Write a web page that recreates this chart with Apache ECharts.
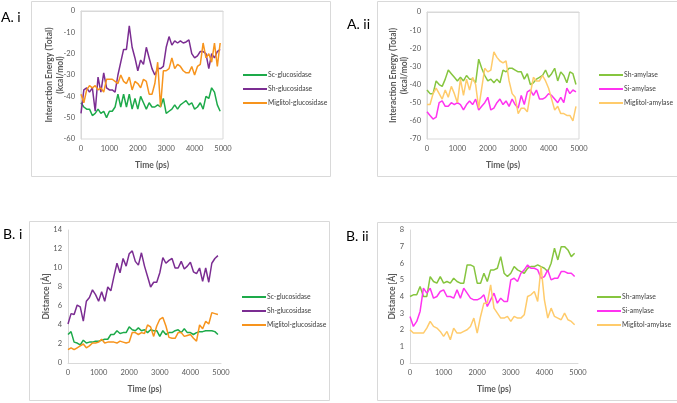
<!DOCTYPE html>
<html><head><meta charset="utf-8">
<script src="https://cdn.jsdelivr.net/npm/echarts@6/dist/echarts.min.js"></script>
<style>html,body{margin:0;padding:0;background:#fff}#c{width:677px;height:403px}</style>
</head><body><div id="c"></div>
<script>
const time = [0,100,200,300,400,500,600,700,800,900,1000,1100,1200,1300,1400,1500,1600,1700,1800,1900,2000,2100,2200,2300,2400,2500,2600,2700,2800,2900,3000,3100,3200,3300,3400,3500,3600,3700,3800,3900,4000,4100,4200,4300,4400,4500,4600,4700,4800,4900];

// A.i Interaction energy, glucosidase
const aiSc = [-43,-45,-46,-46,-49,-48,-46,-48,-47,-50,-47,-47,-45,-39,-45,-39,-45,-39,-46,-41,-46,-40,-43,-46,-43,-45,-45,-44,-45,-41,-48,-47,-46,-44,-46,-44,-43,-42,-44,-43,-46,-45,-43,-46,-40,-41,-36,-38,-44,-47];
const aiSh = [-48,-37,-36,-38,-36,-47,-31,-38,-29,-36,-37,-37,-38,-30,-24,-18,-18,-7,-17,-22,-28,-23,-25,-17,-22,-27,-30,-27,-27,-26,-17,-12,-16,-14,-15,-14,-15,-14.5,-13.5,-20,-22,-21,-19,-19,-20,-27,-20,-22,-19,-18];
const aiMig = [-39,-43,-37,-35,-36,-35,-37,-36,-38,-32,-32,-32,-33,-34,-30,-33,-34,-31,-37,-33,-34,-36,-32,-33,-39,-39,-34,-24,-45,-28,-28,-27,-22,-27,-25,-26,-28,-29,-29,-26,-30,-26,-25,-15,-22,-20,-24,-15,-26,-15];

// A.ii Interaction energy, amylase
const aiiSh = [-43,-45,-45,-38,-40,-41,-37,-32,-34,-36,-38,-36,-38,-35,-37,-37,-39,-26,-31,-35,-38,-37,-39,-37,-39,-32,-33,-31,-31,-32,-33,-33,-37,-34,-40,-39,-37,-36,-35,-32,-36,-34,-31,-38,-33,-35,-39,-33,-34,-40];
const aiiSi = [-55,-57,-59,-58,-50,-49,-52,-52,-50,-51,-50,-51,-54,-51,-49,-51,-48,-54,-52,-50,-47,-54,-53,-50,-48,-51,-49,-52,-48,-51,-53,-46,-51,-44,-43,-46,-43,-48,-48,-47,-45,-46,-48,-50,-47,-50,-42,-45,-43,-44];
const aiiMig = [-51,-51,-45,-42,-45,-48,-43,-47,-41,-45,-50,-37,-46,-37,-43,-36,-40,-53,-42,-31,-33,-32,-22,-25,-27,-28,-27,-38,-45,-47,-56,-53,-53,-55,-45,-36,-38,-38,-35,-38,-42,-48,-54,-52,-56,-56,-57,-57,-60,-52];

// B.i Distance, glucosidase
const biSc = [3.0,3.3,2.2,2.1,1.9,2.4,2.1,2.2,2.2,2.3,2.3,2.4,2.5,2.5,3.0,3.0,3.4,3.1,3.2,3.2,3.8,3.5,3.4,3.7,3.4,3.5,3.2,3.5,3.4,3.4,2.8,3.4,3.0,3.2,3.2,3.4,3.5,3.2,3.6,3.2,3.2,3.0,3.2,3.3,3.3,3.4,3.4,3.4,3.3,3.0];
const biSh = [4.1,5.2,5.1,6.1,5.9,4.4,6.5,6.9,7.7,7.2,6.5,7.5,6.5,8.0,7.6,9.1,10.5,9.5,11.0,10.2,11.5,11.8,10.7,10.3,11.6,10.2,9.1,8.0,8.5,8.5,9.5,11.1,10.5,10.8,11.0,10.0,10.0,10.7,9.9,10.2,10.6,9.6,9.4,10.0,8.6,10.0,8.5,10.5,11.0,11.3];
const biMig = [1.4,1.6,1.4,1.6,1.8,2.0,1.6,1.8,2.1,2.1,2.2,2.5,2.1,2.2,2.2,2.2,2.1,2.3,2.2,2.1,2.2,3.2,3.2,3.0,3.2,3.1,4.0,3.8,2.8,3.9,4.6,4.8,3.9,2.7,2.6,2.6,3.2,3.2,2.8,2.9,3.0,2.6,2.3,4.0,3.6,4.4,4.1,5.3,5.2,5.1];

// B.ii Distance, amylase
const biiSh = [4.0,4.1,4.1,4.6,4.0,4.0,5.2,4.9,4.8,5.2,4.8,4.9,4.8,5.1,4.9,4.8,4.8,5.9,5.9,5.8,4.8,4.8,5.4,4.9,5.6,5.6,5.7,6.4,5.4,5.2,5.4,5.8,5.6,5.5,5.4,5.7,5.8,5.8,5.9,5.8,5.7,5.5,6.0,6.9,6.2,7.0,7.0,6.8,6.4,6.6];
const biiSi = [2.8,2.2,2.5,3.1,4.5,4.2,4.5,3.9,4.0,4.3,4.4,4.0,4.0,3.9,4.4,3.9,4.5,4.2,3.9,3.8,3.8,3.9,4.1,3.4,3.8,4.2,3.6,3.9,3.7,3.7,5.0,5.1,4.9,5.4,5.6,5.9,5.7,5.7,5.6,5.1,5.2,5.6,5.0,5.1,5.1,5.5,5.5,5.4,5.4,5.2];
const biiMig = [2.0,1.8,1.8,1.8,1.8,2.1,2.5,2.2,2.1,1.9,1.6,1.9,1.4,2.1,1.8,1.8,1.9,2.0,2.2,2.7,1.8,2.8,3.6,3.6,4.7,3.3,3.0,2.7,2.7,2.8,2.5,2.8,2.7,2.7,2.9,4.0,4.1,4.3,3.7,5.8,3.8,2.7,3.3,2.8,2.7,2.6,3.0,2.6,2.5,2.3];

const glucNames = ['Sc-glucosidase','Sh-glucosidase','Miglitol-glucosidase'];
const amyNames = ['Sh-amylase','Si-amylase','Miglitol-amylase'];
const panelLabels = ['A. i','A. ii','B. i','B. ii'];
const energyTitle = 'Interaction Energy (Total)\n(kcal/mol)';
const distTitle = 'Distance [Å]';
const timeTitle = 'Time (ps)';

const C = {green:'#1DAA4A', purple:'#7B2D92', orange:'#F7941D', lgreen:'#86C53F', magenta:'#FF33F0', pale:'#FFCB6B'};
const FONT = 'Lato, "Open Sans", sans-serif';
const tickColor = '#595959';

function pairs(v){ return time.map((t,i)=>[t, v[i]]); }

const grids = [
  {left:81, top:11, width:142, height:128, show:true, borderColor:'#D9D9D9', borderWidth:1},
  {left:427, top:12, width:152, height:127, show:true, borderColor:'#D9D9D9', borderWidth:1},
  {left:68, top:230, width:153, height:133},
  {left:410, top:230, width:168, height:133}
];

function xAx(i){
  return {gridIndex:i, type:'value', min:0, max:5000, interval:1000,
    name:timeTitle, nameLocation:'middle', nameGap:22,
    nameTextStyle:{fontFamily:FONT, fontSize:8.5, fontWeight:'bold', color:tickColor},
    axisLine:{show:true, lineStyle:{color:'#D9D9D9'}}, axisTick:{show:false},
    splitLine:{show:false},
    axisLabel:{fontFamily:FONT, fontSize:7.5, color:tickColor, margin:6, formatter:(v)=>String(v)}};
}
function yAx(i,min,max,interval,name,gap){
  return {gridIndex:i, type:'value', min:min, max:max, interval:interval,
    name:name, nameLocation:'middle', nameRotate:90, nameGap:gap, nameMoveOverlap:false,
    nameTextStyle:{fontFamily:FONT, fontSize:8.5, fontWeight:'bold', color:tickColor, lineHeight:11},
    axisLine:{show:true, lineStyle:{color:'#D9D9D9'}}, axisTick:{show:false},
    splitLine:{show:false},
    axisLabel:{fontFamily:FONT, fontSize:7.5, color:tickColor, margin:6}};
}

function ser(name, v, g, color){
  return {name:name, type:'line', xAxisIndex:g, yAxisIndex:g, data:pairs(v),
    showSymbol:false, symbol:'none', lineStyle:{width:1.5, color:color}, itemStyle:{color:color}, animation:false};
}

function leg(data, left, top){
  return {data:data, left:left, top:top, padding:0, orient:'vertical', icon:'rect', itemWidth:24, itemHeight:2,
    itemGap:4, textStyle:{fontFamily:FONT, fontSize:6.8, color:'#404040', lineHeight:10, padding:[0,0,0,-4]}};
}

// B-panel series use a trailing space so their legends stay independent
const bG = glucNames.map(n=>n+' ');
const bA = amyNames.map(n=>n+' ');

const option = {
  animation:false,
  grid: grids,
  xAxis: [xAx(0), xAx(1), xAx(2), xAx(3)],
  yAxis: [
    yAx(0,-60,0,10,energyTitle,15),
    yAx(1,-70,0,10,energyTitle,17),
    yAx(2,0,14,2,distTitle,16),
    yAx(3,0,8,1,distTitle,12)
  ],
  legend: [
    leg(glucNames, 243, 70),
    leg(amyNames, 599, 70),
    leg(bG, 242, 292),
    leg(bA, 597, 292)
  ],
  series: [
    ser(glucNames[0], aiSc, 0, C.green),
    ser(glucNames[1], aiSh, 0, C.purple),
    ser(glucNames[2], aiMig, 0, C.orange),
    ser(amyNames[0], aiiSh, 1, C.lgreen),
    ser(amyNames[1], aiiSi, 1, C.magenta),
    ser(amyNames[2], aiiMig, 1, C.pale),
    ser(bG[0], biSc, 2, C.green),
    ser(bG[1], biSh, 2, C.purple),
    ser(bG[2], biMig, 2, C.orange),
    ser(bA[0], biiSh, 3, C.lgreen),
    ser(bA[1], biiSi, 3, C.magenta),
    ser(bA[2], biiMig, 3, C.pale)
  ],
  graphic: [
    {type:'rect', shape:{x:31.5, y:1.5, width:299, height:175}, style:{fill:null, stroke:'#D9D9D9', lineWidth:1}, silent:true, z:-1},
    {type:'rect', shape:{x:377.5, y:1.5, width:305, height:175}, style:{fill:null, stroke:'#D9D9D9', lineWidth:1}, silent:true, z:-1},
    {type:'rect', shape:{x:29.5, y:221.5, width:300, height:179}, style:{fill:null, stroke:'#D9D9D9', lineWidth:1}, silent:true, z:-1},
    {type:'rect', shape:{x:377.5, y:222.5, width:305, height:178}, style:{fill:null, stroke:'#D9D9D9', lineWidth:1}, silent:true, z:-1},
    {type:'text', left:1, top:10, style:{text:panelLabels[0], font:'14px '+FONT, fill:'#000'}},
    {type:'text', left:347, top:17, style:{text:panelLabels[1], font:'14px '+FONT, fill:'#000'}},
    {type:'text', left:3, top:227, style:{text:panelLabels[2], font:'14px '+FONT, fill:'#000'}},
    {type:'text', left:346, top:229, style:{text:panelLabels[3], font:'14px '+FONT, fill:'#000'}}
  ]
};

const chart = echarts.init(document.getElementById('c'), null, {renderer:'canvas'});
chart.setOption(option);
</script>
</body></html>
